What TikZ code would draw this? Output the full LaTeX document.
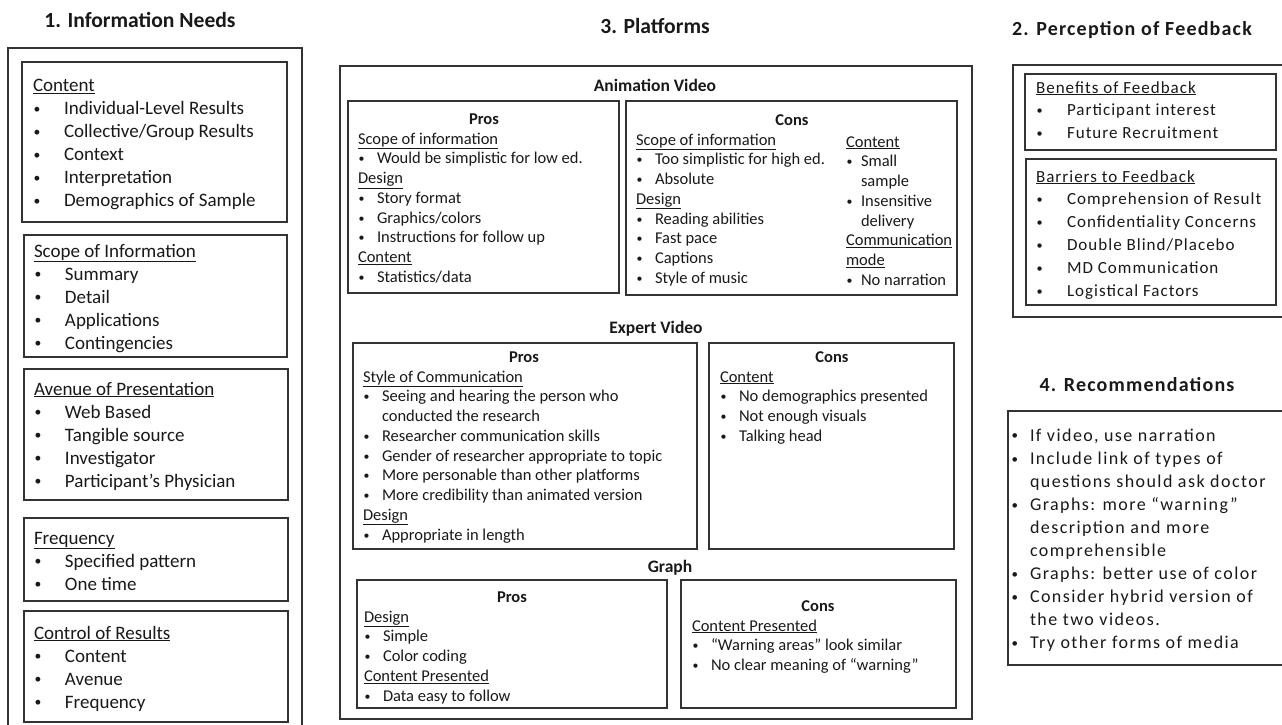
\documentclass[tikz,border=0pt]{standalone}
\usepackage{graphicx}
\usepackage{fontspec}
\setmainfont{Carlito}
\newfontfamily\rfont[LetterSpace=6]{Carlito}
\newfontfamily\recfont[LetterSpace=8]{Carlito}
\newcommand{\bul}{\hspace{0.6pt}\raisebox{0.12ex}{\scalebox{0.72}{•}}}
\newcommand{\hd}[1]{\multicolumn{2}{@{}l@{}}{\underline{#1}}}
\newcommand{\blk}[2]{\begin{tabular}[t]{@{}p{#1}@{}l@{}}#2\end{tabular}}
\newcommand{\fr}[5]{\node[frame, anchor=north west, minimum width={(#4-#2)*1pt}, minimum height={(#5-#3)*1pt}] (#1) at (#2,#3) {};}
\tikzset{
  frame/.style={draw=black!80, line width=1.2pt, inner sep=0pt, outer sep=0pt},
  txt/.style={anchor=base west, inner sep=0pt, outer sep=0pt, text=black!90},
  lbody/.style={txt, font=\fontsize{19}{23}\selectfont},
  pbody/.style={txt, font=\fontsize{16.5}{19.75}\selectfont},
  rbody/.style={txt, font=\rfont\fontsize{17}{22.8}\selectfont},
  recbody/.style={txt, font=\recfont\fontsize{18}{23.1}\selectfont},
  ttl/.style={anchor=base, inner sep=0pt, text=black!90, font=\bfseries\fontsize{21.6}{25}\selectfont},
  rttl/.style={anchor=base, inner sep=0pt, text=black!90, font=\rfont\bfseries\fontsize{20}{24}\selectfont},
  sect/.style={anchor=base, inner sep=0pt, text=black!90, font=\bfseries\fontsize{17.5}{21}\selectfont},
  pc/.style={anchor=base, inner sep=0pt, text=black!90, font=\bfseries\fontsize{16.5}{20}\selectfont}
}
\begin{document}
\begin{tikzpicture}[x=1pt,y=-1pt]
\useasboundingbox (0,0) rectangle (1282,725);
\fill[white] (0,0) rectangle (1282,725);

% ---------- 1. Information Needs ----------
\node[ttl] (t1) at (140,28) {1. Information Needs};
\fr{lout}{8}{48}{302}{760}
\fr{lcont}{22}{62}{287}{222}
\fr{lscope}{24}{235}{287}{357}
\fr{laven}{24}{369}{288}{500}
\fr{lfreq}{24}{518}{288}{601}
\fr{lctrl}{24}{611}{288}{722}
\node[lbody] (lcontT) at (33,92) {\blk{31pt}{\hd{Content}\\
\bul & Individual-Level Results\\
\bul & Collective/Group Results\\
\bul & Context\\
\bul & Interpretation\\
\bul & Demographics of Sample}};
\node[lbody] (lscopeT) at (34,257) {\blk{31pt}{\hd{Scope of Information}\\
\bul & Summary\\
\bul & Detail\\
\bul & Applications\\
\bul & Contingencies}};
\node[lbody] (lavenT) at (34,395) {\blk{31pt}{\hd{Avenue of Presentation}\\
\bul & Web Based\\
\bul & Tangible source\\
\bul & Investigator\\
\bul & Participant’s Physician}};
\node[lbody] (lfreqT) at (34,544) {\blk{31pt}{\hd{Frequency}\\
\bul & Specified pattern\\
\bul & One time}};
\node[lbody] (lctrlT) at (34,639) {\blk{31pt}{\hd{Control of Results}\\
\bul & Content\\
\bul & Avenue\\
\bul & Frequency}};

% ---------- 3. Platforms ----------
\node[ttl] (t3) at (655,34) {3. Platforms};
\fr{pout}{340}{66}{972}{719}
\node[sect] (av) at (655,92) {Animation Video};
\fr{avp}{348}{101}{619}{293}
\fr{avc}{626}{101}{957}{295}
\node[pc] (avpT) at (484,124) {Pros};
\node[pc] (avcT) at (792,125) {Cons};
\node[pbody] (avpB) at (358,144) {\blk{19pt}{\hd{Scope of information}\\
\bul & Would be simplistic for low ed.\\
\hd{Design}\\
\bul & Story format\\
\bul & Graphics/colors\\
\bul & Instructions for follow up\\
\hd{Content}\\
\bul & Statistics/data}};
\node[pbody] (avcB1) at (636,145) {\blk{19pt}{\hd{Scope of information}\\
\bul & Too simplistic for high ed.\\
\bul & Absolute\\
\hd{Design}\\
\bul & Reading abilities\\
\bul & Fast pace\\
\bul & Captions\\
\bul & Style of music}};
\node[pbody] (avcB2) at (846,147) {\blk{15pt}{\hd{Content}\\
\bul & Small\\
  & sample\\
\bul & Insensitive\\
  & delivery\\
\hd{Communication}\\
\hd{mode}\\
\bul & No narration}};

\node[sect] (ev) at (656,333) {Expert Video};
\fr{evp}{353}{343}{697}{549}
\fr{evc}{709}{343}{954}{549}
\node[pc] (evpT) at (524,362) {Pros};
\node[pc] (evcT) at (832,362) {Cons};
\node[pbody] (evpB) at (363,382) {\blk{19pt}{\hd{Style of Communication}\\
\bul & Seeing and hearing the person who\\
  & conducted the research\\
\bul & Researcher communication skills\\
\bul & Gender of researcher appropriate to topic\\
\bul & More personable than other platforms\\
\bul & More credibility than animated version\\
\hd{Design}\\
\bul & Appropriate in length}};
\node[pbody] (evcB) at (720,382) {\blk{19pt}{\hd{Content}\\
\bul & No demographics presented\\
\bul & Not enough visuals\\
\bul & Talking head}};

\node[sect] (gr) at (670,572) {Graph};
\fr{grp}{357}{580}{667}{708}
\fr{grc}{681}{580}{956}{708}
\node[pc] (grpT) at (512,602) {Pros};
\node[pc] (grcT) at (818,611) {Cons};
\node[pbody] (grpB) at (364,622) {\blk{19pt}{\hd{Design}\\
\bul & Simple\\
\bul & Color coding\\
\hd{Content Presented}\\
\bul & Data easy to follow}};
\node[pbody] (grcB) at (692,631) {\blk{19pt}{\hd{Content Presented}\\
\bul & “Warning areas” look similar\\
\bul & No clear meaning of “warning”}};

% ---------- 2. Perception of Feedback ----------
\node[rttl] (t2) at (1132,36) {2. Perception of Feedback};
\fr{rout}{1013}{65}{1300}{317}
\fr{rben}{1025}{74}{1276}{150}
\fr{rbar}{1026}{159}{1276}{305}
\node[rbody] (rbenT) at (1036,93) {\blk{31pt}{\hd{Benefits of Feedback}\\
\bul & Participant interest\\
\bul & Future Recruitment}};
\node[rbody] (rbarT) at (1036,182) {\blk{31pt}{\hd{Barriers to Feedback}\\
\bul & Comprehension of Result\\
\bul & Confidentiality Concerns\\
\bul & Double Blind/Placebo\\
\bul & MD Communication\\
\bul & Logistical Factors}};

% ---------- 4. Recommendations ----------
\node[rttl] (t4) at (1137,391) {4. Recommendations};
\fr{rrec}{1008}{411}{1300}{665}
\node[recbody] (rrecT) at (1011,441) {\blk{19pt}{%
\bul & If video, use narration\\
\bul & Include link of types of\\
  & questions should ask doctor\\
\bul & Graphs: more “warning”\\
  & description and more\\
  & comprehensible\\
\bul & Graphs: better use of color\\
\bul & Consider hybrid version of\\
  & the two videos.\\
\bul & Try other forms of media}};
\end{tikzpicture}
\end{document}
